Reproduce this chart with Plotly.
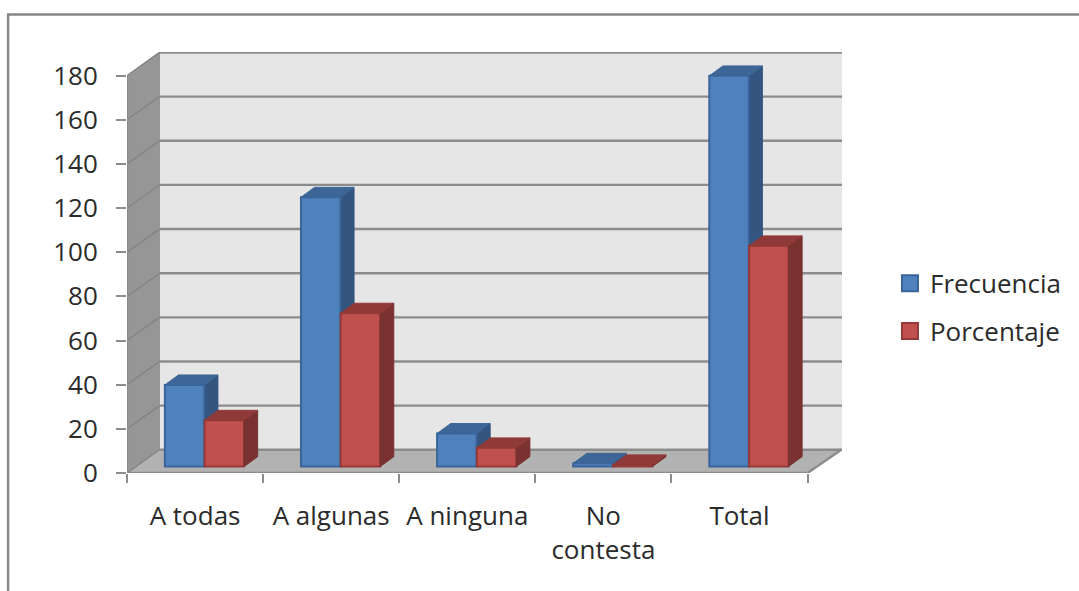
import plotly.graph_objects as go

categories = ["A todas", "A algunas", "A ninguna", "No<br>contesta", "Total"]
frecuencia = [37, 122, 15, 1.5, 177]
porcentaje = [21, 69.5, 8.5, 0.8, 100]
y_ticks = list(range(0, 181, 20))

FONT = "Open Sans"
TEXT = "#2b2b2b"
W, H = 1079, 591
L, R, T, B = 126.5, 842, 52, 473.5
X_MAX, Y_MAX = 5.253, 190.7
DX, DY = 0.239, 10.5     # depth of the floor, axis units
BDX, BDY = 0.1, 4.5      # depth of one bar
BASE = 2.9               # bars stand slightly in from the front edge
BAR_W = 0.29
OFF_A, OFF_B = 0.278, 0.57
n = len(categories)
pos = [i + 0.5 for i in range(n)]

def poly(polys):
    xs, ys = [], []
    for p in polys:
        xs += [a for a, _ in p] + [p[0][0], None]
        ys += [b for _, b in p] + [p[0][1], None]
    return xs, ys

def face(xs, ys, fill, line, width=1, axes=("x", "y")):
    return go.Scatter(x=xs, y=ys, mode="lines", fill="toself", fillcolor=fill,
                      line=dict(color=line, width=width), showlegend=False,
                      hoverinfo="skip", xaxis=axes[0], yaxis=axes[1], cliponaxis=False)

def side_top(vals, off):
    side, top = [], []
    for i, v in enumerate(vals):
        x1 = i + off + BAR_W
        x0 = i + off
        b, t = BASE, BASE + v
        side.append([(x1, b), (x1 + BDX, b + BDY), (x1 + BDX, t + BDY), (x1, t)])
        top.append([(x0, t), (x0 + BDX, t + BDY), (x1 + BDX, t + BDY), (x1, t)])
    return poly(side), poly(top)

fig = go.Figure()

# walls and floor
fig.add_trace(face(*poly([[(DX, DY), (X_MAX, DY), (X_MAX, Y_MAX), (DX, Y_MAX)]]), "#E6E6E6", "#E6E6E6"))
fig.add_trace(face(*poly([[(0, 0), (DX, DY), (DX, Y_MAX), (0, 180)]]), "#969696", "#969696"))
fig.add_trace(face(*poly([[(0, 0), (5, 0), (X_MAX - 0.005, DY), (DX, DY)]]), "#B2B2B2", "#B2B2B2"))

# gridlines, along the side wall and the back wall
gx, gy = [], []
for v in y_ticks:
    gx += [0, DX, None]
    gy += [v, v + DY, None]
fig.add_trace(go.Scatter(x=gx, y=gy, mode="lines", line=dict(color="#808080", width=1.2),
                         showlegend=False, hoverinfo="skip", cliponaxis=False))
gx, gy = [], []
for v in y_ticks:
    gx += [DX, X_MAX, None]
    gy += [v + DY, v + DY, None]
fig.add_trace(go.Scatter(x=gx, y=gy, mode="lines", line=dict(color="#8C8C8C", width=2.4),
                         showlegend=False, hoverinfo="skip", cliponaxis=False))

# axis lines
fig.add_trace(go.Scatter(x=[0, 0, None, 0, 5, X_MAX - 0.005], y=[180, 0, None, 0, 0, DY], mode="lines",
                         line=dict(color="#8C8C8C", width=2.4), showlegend=False,
                         hoverinfo="skip", cliponaxis=False))

# blue 3-D faces sit below the bar layer so the red bars cover them
(sx, sy), (tx, ty) = side_top(frecuencia, OFF_A)
fig.add_trace(face(sx, sy, "#34557F", "#34557F"))
fig.add_trace(face(tx, ty, "#3D6696", "#3D6696"))

# front faces
fig.add_trace(go.Bar(x=pos, y=frecuencia, base=BASE, width=BAR_W, offset=OFF_A - 0.5, name="Frecuencia",
                     marker=dict(color="#4F81BD", line=dict(color="#3A659B", width=2)),
                     showlegend=False, xaxis="x2", yaxis="y2"))
fig.add_trace(go.Bar(x=pos, y=porcentaje, base=BASE, width=BAR_W, offset=OFF_B - 0.5, name="Porcentaje",
                     marker=dict(color="#C0504D", line=dict(color="#953A38", width=2)),
                     showlegend=False, xaxis="x2", yaxis="y2"))

# red 3-D faces
(sx, sy), (tx, ty) = side_top(porcentaje, OFF_B)
fig.add_trace(face(sx, sy, "#7A3230", "#7A3230", axes=("x2", "y2")))
fig.add_trace(face(tx, ty, "#8F3A38", "#8F3A38", axes=("x2", "y2")))

# legend
for name, col, edge in (("Frecuencia", "#4F81BD", "#3A659B"), ("Porcentaje", "#C0504D", "#953A38")):
    fig.add_trace(go.Scatter(x=[None], y=[None], mode="markers", name=name, legendgroup=name,
                             marker=dict(symbol="square", size=16, color=col, line=dict(color=edge, width=2))))

span_x = R - L
span_y = B - T
fig.update_layout(
    width=W, height=H, autosize=False,
    margin=dict(l=L, r=W - R, t=T, b=H - B, pad=0),
    paper_bgcolor="white", plot_bgcolor="white",
    barmode="overlay",
    font=dict(family=FONT, size=26, color=TEXT),
    xaxis=dict(range=[0, X_MAX], tickvals=pos, ticktext=categories, ticks="", showgrid=False, zeroline=False,
               showline=False, ticklabelstandoff=25,
               minor=dict(tickvals=list(range(n + 1)), ticks="outside", ticklen=9, tickwidth=2.4,
                          tickcolor="#8C8C8C", showgrid=False)),
    yaxis=dict(range=[0, Y_MAX], tickvals=y_ticks, ticks="outside", ticklen=10, tickwidth=2.4,
               tickcolor="#8C8C8C", showgrid=False, zeroline=False, showline=False, ticklabelstandoff=13),
    xaxis2=dict(range=[0, X_MAX], overlaying="x", visible=False),
    yaxis2=dict(range=[0, Y_MAX], overlaying="y", visible=False),
    legend=dict(x=(890 - L) / span_x, y=(B - 260) / span_y, xanchor="left", yanchor="top",
                traceorder="grouped", tracegroupgap=11, bgcolor="rgba(0,0,0,0)",
                font=dict(family=FONT, size=26, color=TEXT)),
    shapes=[dict(type="rect", xref="paper", yref="paper", layer="below",
                 x0=(7.5 - L) / span_x, x1=(W + 20 - L) / span_x,
                 y0=(B - H - 20) / span_y, y1=(B - 14.5) / span_y,
                 line=dict(color="#868686", width=2.4))],
)
fig.write_html("out.html", config=dict(displayModeBar=False),
               post_script="document.body.style.margin='0';document.body.style.overflow='hidden';")
